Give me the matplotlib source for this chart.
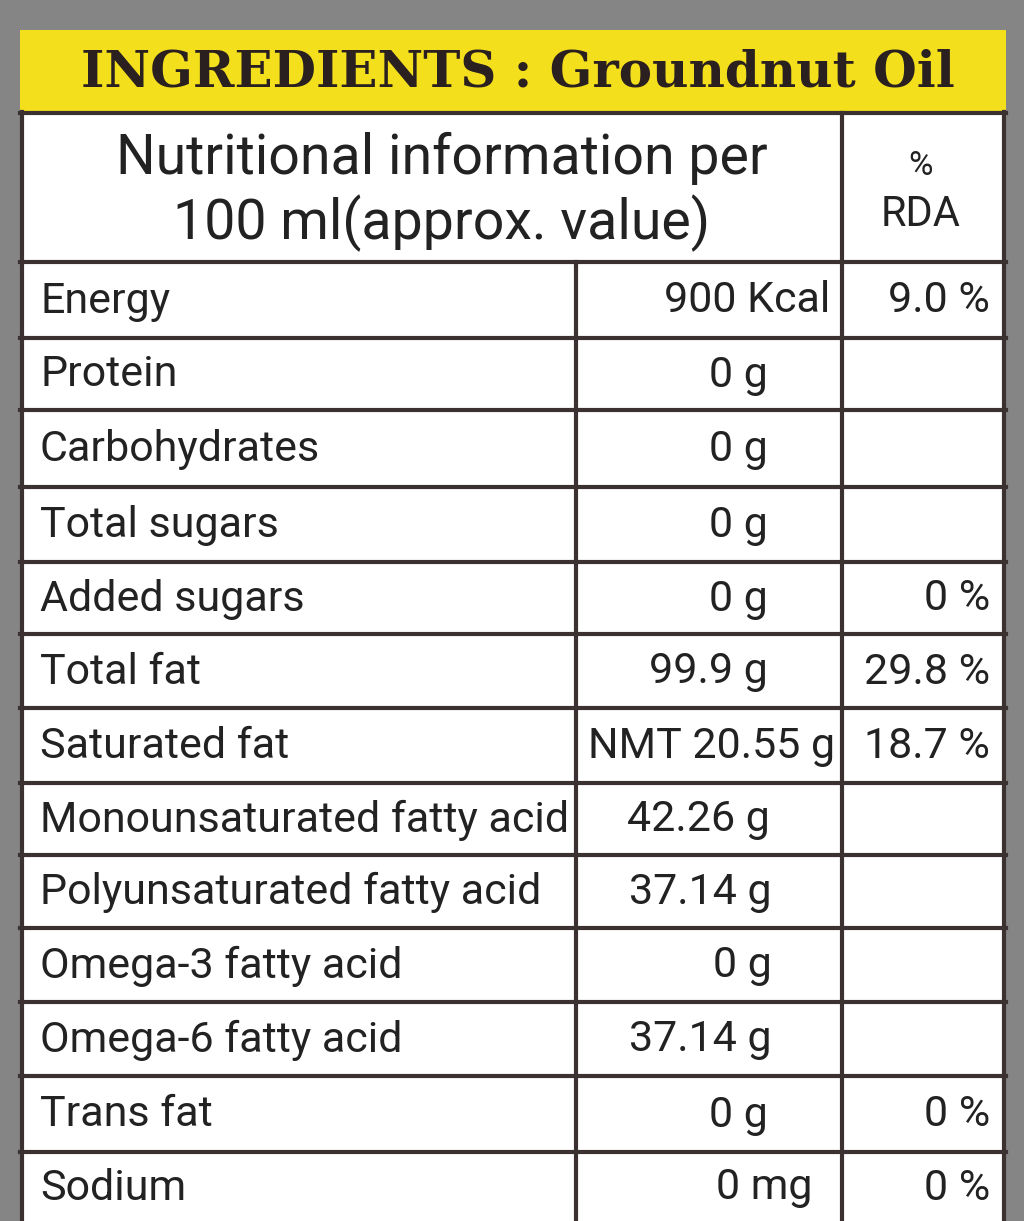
import matplotlib
matplotlib.use("Agg")
import matplotlib.pyplot as plt
from matplotlib.patches import Rectangle

title = "INGREDIENTS : Groundnut Oil"
header_left = ["Nutritional information per", "100 ml(approx. value)"]
header_right = ["%", "RDA"]
nutrients = ["Energy", "Protein", "Carbohydrates", "Total sugars", "Added sugars",
             "Total fat", "Saturated fat", "Monounsaturated fatty acid",
             "Polyunsaturated fatty acid", "Omega-3 fatty acid", "Omega-6 fatty acid",
             "Trans fat", "Sodium"]
amounts = ["900 Kcal", "0 g", "0 g", "0 g", "0 g", "99.9 g", "NMT 20.55 g",
           "42.26 g", "37.14 g", "0 g", "37.14 g", "0 g", "0 mg"]
rda = ["9.0 %", "", "", "", "0 %", "29.8 %", "18.7 %", "", "", "", "", "0 %", "0 %"]

# layout
row_edges = [262, 338, 410, 487, 562, 634, 708, 783, 855, 928, 1002, 1076, 1152, 1240]
amount_right = [830, 768, 768, 768, 768, 768, 835, 770, 772, 772, 772, 768, 812]
W, H = 1024, 1221
line_c = "#3b3131"

fig = plt.figure(figsize=(W/100, H/100), dpi=100)
ax = fig.add_axes([0, 0, 1, 1])
ax.set_xlim(0, W); ax.set_ylim(H, 0); ax.axis("off")
fig.patch.set_facecolor("#858585")
ax.add_patch(Rectangle((20, 30), 986, H, facecolor="white", edgecolor="none"))
ax.add_patch(Rectangle((20, 30), 986, 82, facecolor="#f4df1c", edgecolor="none"))
ax.text(518, 73, title, ha="center", va="center", fontsize=36, fontweight="bold",
        family="DejaVu Serif", color="#2a2020")

lw = 3
ax.plot([22, 22], [112, H], color=line_c, lw=lw)
ax.plot([1004, 1004], [112, H], color=line_c, lw=lw)
ax.plot([20, 1006], [113, 113], color=line_c, lw=lw)
ax.plot([842, 842], [113, H], color=line_c, lw=lw)
ax.plot([576, 576], [262, H], color=line_c, lw=lw)
for y in row_edges[:-1]:
    ax.plot([20, 1006], [y, y], color=line_c, lw=lw)

f = "Roboto"
ax.text(442, 158, header_left[0], ha="center", va="center", fontsize=40, family=f, color="#222")
ax.text(442, 223, header_left[1], ha="center", va="center", fontsize=40, family=f, color="#222")
ax.text(921, 166, header_right[0], ha="center", va="center", fontsize=24, family=f, color="#222")
ax.text(921, 215, header_right[1], ha="center", va="center", fontsize=30, family=f, color="#222")

for i, name in enumerate(nutrients):
    yc = (row_edges[i] + min(row_edges[i+1], 1225)) / 2 + 1
    if i == len(nutrients) - 1:
        yc = 1188
    ax.text(40, yc, name, ha="left", va="center", fontsize=31, family=f, color="#222")
    ax.text(amount_right[i], yc, amounts[i], ha="right", va="center", fontsize=31, family=f, color="#222")
    if rda[i]:
        ax.text(990, yc, rda[i], ha="right", va="center", fontsize=31, family=f, color="#222")

fig.savefig("out.png", dpi=100)
